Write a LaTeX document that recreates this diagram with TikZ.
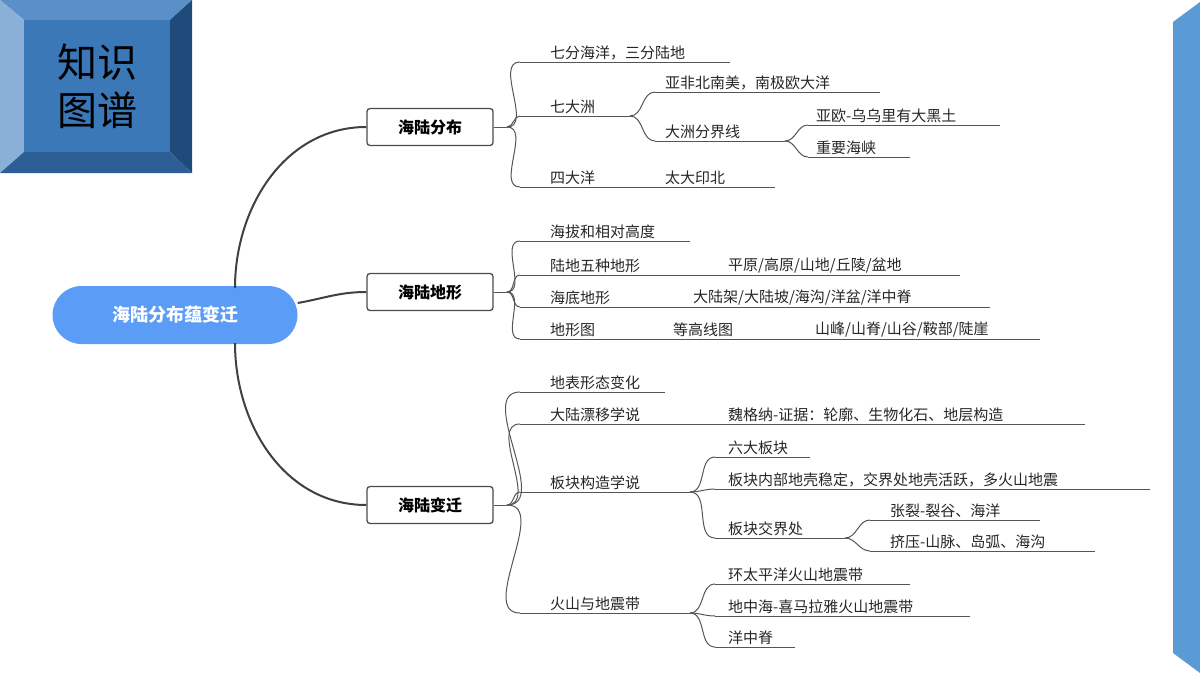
\documentclass[tikz,border=0pt]{standalone}
\usepackage{fontspec}
\setmainfont{Noto Sans CJK SC}
\newfontfamily\titlefont{Noto Sans CJK SC}
\usetikzlibrary{positioning}
\definecolor{rootblue}{HTML}{5B9CF6}
\definecolor{barblue}{HTML}{5B9BD5}
\definecolor{linegray}{HTML}{555555}

% leaf: name, x start, x end, y, text offset, text
\newcommand{\leaf}[6]{%
  \coordinate (#1-s) at (#2,#4);
  \coordinate (#1-e) at (#3,#4);
  \draw[leafline] (#1-s) -- (#1-e);
  \node[leaftext] (#1) at (#2+#5,#4-2) {#6};
}

\begin{document}
\begin{tikzpicture}[x=1pt,y=-1pt,
    leafline/.style={draw=linegray,line width=0.8pt},
    leaftext/.style={anchor=south west,inner sep=0pt,font=\fontsize{15}{18}\selectfont,text=black!85},
    branch/.style={draw=linegray,line width=1pt},
    topic/.style={draw=black!70,line width=1.3pt,rounded corners=3pt,fill=white,
        minimum width=126pt,minimum height=37pt,font=\fontsize{16}{19}\selectfont\bfseries},
    center/.style={fill=rootblue,rounded corners=29pt,minimum width=245pt,minimum height=58pt,
        text=white,font=\fontsize{18}{21}\selectfont\bfseries}]

    \useasboundingbox (0,0) rectangle (1200,675);

    % title block
    \fill[blue!40!black!0,fill={rgb,255:red,91;green,143;blue,199}] (0,0) -- (192,0) -- (170,20) -- (24,20) -- cycle;
    \fill[fill={rgb,255:red,138;green,176;blue,216}] (0,0) -- (24,20) -- (24,152) -- (0,173) -- cycle;
    \fill[fill={rgb,255:red,31;green,75;blue,122}] (192,0) -- (192,173) -- (170,152) -- (170,20) -- cycle;
    \fill[fill={rgb,255:red,45;green,95;blue,150}] (0,173) -- (192,173) -- (170,152) -- (24,152) -- cycle;
    \fill[fill={rgb,255:red,58;green,120;blue,184}] (24,20) rectangle (170,152);
    \node[align=center,font=\fontsize{40}{48}\selectfont\titlefont] (title) at (97,86) {知识\\图谱};

    % side bar
    \fill[barblue] (1173,22) -- (1200,2) -- (1200,673) -- (1173,653) -- cycle;

    % main nodes
    \node[center] (root) at (175,315) {海陆分布蕴变迁};
    \node[topic] (dist) at (430,127) {海陆分布};
    \node[topic] (land) at (430,292) {海陆地形};
    \node[topic] (move) at (430,505) {海陆变迁};

    \draw[branch,line width=2pt,black!75] (235,288) to[out=90,in=180] (dist.west);
    \draw[branch,line width=2pt,black!75] (root.east) ++(0,-12) to[out=10,in=180] (land.west);
    \draw[branch,line width=2pt,black!75] (235,343) to[out=-90,in=180] (move.west);

    % 海陆分布
    \coordinate (f1) at (507,127);
    \draw[branch] (dist.east) -- (f1);
    \leaf{a1}{520}{730}{62}{30}{七分海洋，三分陆地}
    \leaf{a2}{520}{630}{116}{30}{七大洲}
    \leaf{a3}{520}{640}{187}{30}{四大洋}
    \leaf{a31}{640}{775}{187}{25}{太大印北}
    \leaf{a21}{655}{880}{92}{10}{亚非北南美，南极欧大洋}
    \leaf{a22}{655}{785}{141}{10}{大洲分界线}
    \leaf{a221}{808}{1000}{125}{8}{亚欧-乌乌里有大黑土}
    \leaf{a222}{808}{910}{157}{8}{重要海峡}
    \foreach \c in {a1,a2,a3} \draw[branch] (f1) to[out=0,in=180] (\c-s);
    \foreach \c in {a21,a22} \draw[branch] (a2-e) to[out=0,in=180] (\c-s);
    \foreach \c in {a221,a222} \draw[branch] (a22-e) to[out=0,in=180] (\c-s);

    % 海陆地形
    \coordinate (f2) at (507,292);
    \draw[branch] (land.east) -- (f2);
    \leaf{b1}{520}{690}{241}{30}{海拔和相对高度}
    \leaf{b2}{520}{700}{275}{30}{陆地五种地形}
    \leaf{b21}{700}{960}{275}{28}{平原/高原/山地/丘陵/盆地}
    \leaf{b3}{520}{665}{307}{30}{海底地形}
    \leaf{b31}{665}{990}{307}{28}{大陆架/大陆坡/海沟/洋盆/洋中脊}
    \leaf{b4}{520}{645}{339}{30}{地形图}
    \leaf{b41}{645}{790}{339}{28}{等高线图}
    \leaf{b411}{790}{1040}{339}{25}{山峰/山脊/山谷/鞍部/陡崖}
    \foreach \c in {b1,b2,b3,b4} \draw[branch] (f2) to[out=0,in=180] (\c-s);

    % 海陆变迁
    \coordinate (f3) at (507,505);
    \draw[branch] (move.east) -- (f3);
    \leaf{c1}{520}{665}{392}{30}{地表形态变化}
    \leaf{c2}{520}{700}{424}{30}{大陆漂移学说}
    \leaf{c21}{700}{1085}{424}{28}{魏格纳-证据：轮廓、生物化石、地层构造}
    \leaf{c3}{520}{690}{492}{30}{板块构造学说}
    \leaf{c4}{520}{690}{613}{30}{火山与地震带}
    \leaf{c31}{715}{810}{457}{13}{六大板块}
    \leaf{c32}{715}{1150}{489}{13}{板块内部地壳稳定，交界处地壳活跃，多火山地震}
    \leaf{c33}{715}{845}{538}{13}{板块交界处}
    \leaf{c331}{870}{1040}{520}{20}{张裂-裂谷、海洋}
    \leaf{c332}{870}{1095}{551}{20}{挤压-山脉、岛弧、海沟}
    \leaf{c41}{715}{910}{584}{13}{环太平洋火山地震带}
    \leaf{c42}{715}{970}{616}{13}{地中海-喜马拉雅火山地震带}
    \leaf{c43}{715}{795}{647}{13}{洋中脊}
    \foreach \c in {c1,c2,c3,c4} \draw[branch] (f3) to[out=0,in=180] (\c-s);
    \foreach \c in {c31,c32,c33} \draw[branch] (c3-e) to[out=0,in=180] (\c-s);
    \foreach \c in {c331,c332} \draw[branch] (c33-e) to[out=0,in=180] (\c-s);
    \foreach \c in {c41,c42,c43} \draw[branch] (c4-e) to[out=0,in=180] (\c-s);
\end{tikzpicture}
\end{document}
